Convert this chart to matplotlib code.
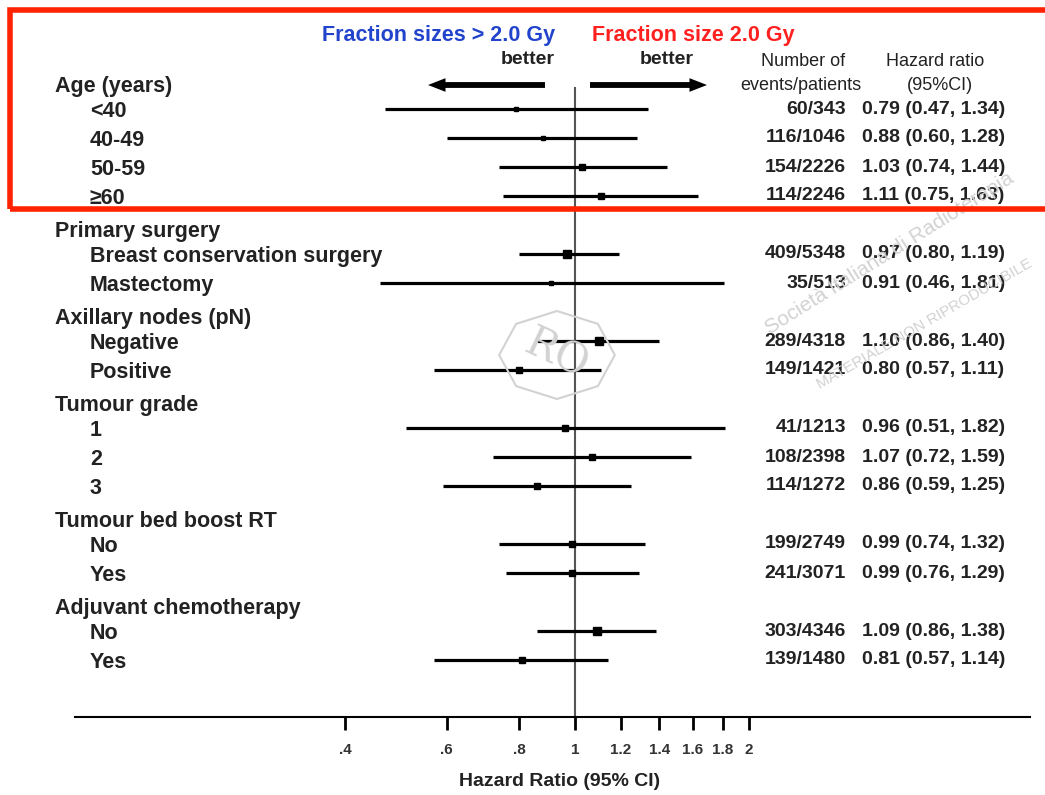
import numpy as np
import matplotlib.pyplot as plt
from matplotlib.patches import Rectangle, RegularPolygon
from matplotlib.transforms import blended_transform_factory

# ---------------- data ----------------
groups = ["Age (years)", "Primary surgery", "Axillary nodes (pN)",
          "Tumour grade", "Tumour bed boost RT", "Adjuvant chemotherapy"]
subgroups = [["<40", "40-49", "50-59", "\u226560"],
             ["Breast conservation surgery", "Mastectomy"],
             ["Negative", "Positive"],
             ["1", "2", "3"],
             ["No", "Yes"],
             ["No", "Yes"]]
events = [60, 116, 154, 114, 409, 35, 289, 149, 41, 108, 114, 199, 241, 303, 139]
patients = [343, 1046, 2226, 2246, 5348, 513, 4318, 1421, 1213, 2398, 1272,
            2749, 3071, 4346, 1480]
hr = [0.79, 0.88, 1.03, 1.11, 0.97, 0.91, 1.10, 0.80, 0.96, 1.07, 0.86,
      0.99, 0.99, 1.09, 0.81]
ci_low = [0.47, 0.60, 0.74, 0.75, 0.80, 0.46, 0.86, 0.57, 0.51, 0.72, 0.59,
          0.74, 0.76, 0.86, 0.57]
ci_high = [1.34, 1.28, 1.44, 1.63, 1.19, 1.81, 1.40, 1.11, 1.82, 1.59, 1.25,
           1.32, 1.29, 1.38, 1.14]
xticks = [0.4, 0.6, 0.8, 1, 1.2, 1.4, 1.6, 1.8, 2]
xticklabels = [".4", ".6", ".8", "1", "1.2", "1.4", "1.6", "1.8", "2"]

# ---------------- layout ----------------
W, H = 1045, 795
plt.rcParams['font.family'] = ['Liberation Sans', 'DejaVu Sans']
fig = plt.figure(figsize=(W / 100, H / 100), dpi=100)
ax = fig.add_axes([75 / W, (H - 717) / H, (1030 - 75) / W, (717 - 10) / H])
ax.set_xscale('log')
ax.set_xlim(np.exp((75 - 575) / 251), np.exp((1030 - 575) / 251))
ax.set_ylim((717 - 109) / 29, (10 - 109) / 29)

# rows: header then its items, one row each
header_rows, item_rows = [], []
r = -1
for g, subs in zip(groups, subgroups):
    header_rows.append(r)
    r += 1
    for s in subs:
        item_rows.append(r)
        r += 1
item_rows = np.array(item_rows)
item_labels = [s for subs in subgroups for s in subs]

tr = blended_transform_factory(fig.transFigure, ax.transData)
txt = '#222222'

# watermark (drawn first, faint)
wm = '#d2d2d2'
fig.text(762 / W, 1 - 338 / H, "Società Italiana di Radioterapia",
         fontsize=15, color=wm, rotation=32, ha='left', va='bottom', zorder=0)
fig.text(815 / W, 1 - 392 / H, "MATERIALE NON RIPRODUCIBILE", fontsize=11,
         color=wm, rotation=30, ha='left', va='bottom', zorder=0)
fig.patches.append(RegularPolygon((557 / W, 1 - 355 / H), 8, radius=44 / H,
                                  transform=fig.transFigure, fill=False,
                                  edgecolor=wm, lw=1.5, zorder=0))
fig.text(557 / W, 1 - 355 / H, "RO", fontsize=30, family='serif', color=wm,
         rotation=-25, ha='center', va='center', zorder=0)

for g, y in zip(groups, header_rows):
    ax.text(55 / W, y + 0.22, g, transform=tr, fontsize=15.5,
            fontweight='bold', color=txt, va='center', ha='left')
for s, y in zip(item_labels, item_rows):
    ax.text(90 / W, y + 0.1, s, transform=tr, fontsize=15.5,
            fontweight='bold', color=txt, va='center', ha='left')

# reference line
ax.plot([1, 1], [(88 - 109) / 29, ax.get_ylim()[0]], color='#555555',
        lw=1.5, zorder=1)

# CI lines and point estimates
ax.hlines(item_rows, ci_low, ci_high, color='black', lw=2.3, zorder=2)
msize = 1.5 + 4.5 * np.sqrt(np.array(patients) / max(patients))
for x, y, m in zip(hr, item_rows, msize):
    ax.plot(x, y, marker='s', ms=m, color='black', zorder=3)

# right hand table
for e, p, h, lo, hi, y in zip(events, patients, hr, ci_low, ci_high, item_rows):
    ax.text(846 / W, y, f"{e}/{p}", transform=tr, fontsize=14,
            fontweight='bold', color=txt, va='center', ha='right')
    ax.text(862 / W, y, f"{h:.2f} ({lo:.2f}, {hi:.2f})", transform=tr,
            fontsize=14, fontweight='bold', color=txt, va='center', ha='left')

# axis styling
for sp in ['top', 'right', 'left']:
    ax.spines[sp].set_visible(False)
ax.spines['bottom'].set_linewidth(1.5)
ax.set_yticks([])
ax.set_xticks(xticks)
ax.set_xticklabels(xticklabels, fontsize=11, fontweight='bold', color='#333333')
ax.xaxis.set_minor_locator(plt.NullLocator())
ax.tick_params(axis='x', direction='out', length=9, width=2, pad=10)
fig.text(560 / W, 1 - 782 / H, "Hazard Ratio (95% CI)", fontsize=14,
         fontweight='bold', color=txt, ha='center', va='center')

# header
fig.text(555 / W, 1 - 35 / H, "Fraction sizes > 2.0 Gy", fontsize=15.5,
         fontweight='bold', color='#2244cc', ha='right', va='center')
fig.text(592 / W, 1 - 35 / H, "Fraction size 2.0 Gy", fontsize=15.5,
         fontweight='bold', color='#ff2020', ha='left', va='center')
fig.text(555 / W, 1 - 60 / H, "better", fontsize=14, fontweight='bold',
         color=txt, ha='right', va='center')
fig.text(640 / W, 1 - 60 / H, "better", fontsize=14, fontweight='bold',
         color=txt, ha='left', va='center')
fig.text(803 / W, 1 - 62 / H, "Number of", fontsize=13, color=txt,
         ha='center', va='center')
fig.text(801 / W, 1 - 86 / H, "events/patients", fontsize=13, color=txt,
         ha='center', va='center')
fig.text(935 / W, 1 - 62 / H, "Hazard ratio", fontsize=13, color=txt,
         ha='center', va='center')
fig.text(940 / W, 1 - 86 / H, "(95%CI)", fontsize=13, color=txt,
         ha='center', va='center')

# direction arrows
arrow = dict(arrowstyle='simple,head_length=0.9,head_width=0.7,tail_width=0.3',
             color='black', lw=0, shrinkA=0, shrinkB=0, mutation_scale=14)
ax.annotate('', xy=(428 / W, 1 - 85 / H), xytext=(545 / W, 1 - 85 / H),
            xycoords='figure fraction', textcoords='figure fraction',
            arrowprops=arrow, annotation_clip=False)
ax.annotate('', xy=(707 / W, 1 - 85 / H), xytext=(590 / W, 1 - 85 / H),
            xycoords='figure fraction', textcoords='figure fraction',
            arrowprops=arrow, annotation_clip=False)

# highlight box
fig.patches.append(Rectangle((10 / W, 1 - 209 / H), 1.05, 199 / H,
                             transform=fig.transFigure, fill=False,
                             edgecolor='#ff2200', lw=4, zorder=5))

fig.savefig('out.png', dpi=100)
